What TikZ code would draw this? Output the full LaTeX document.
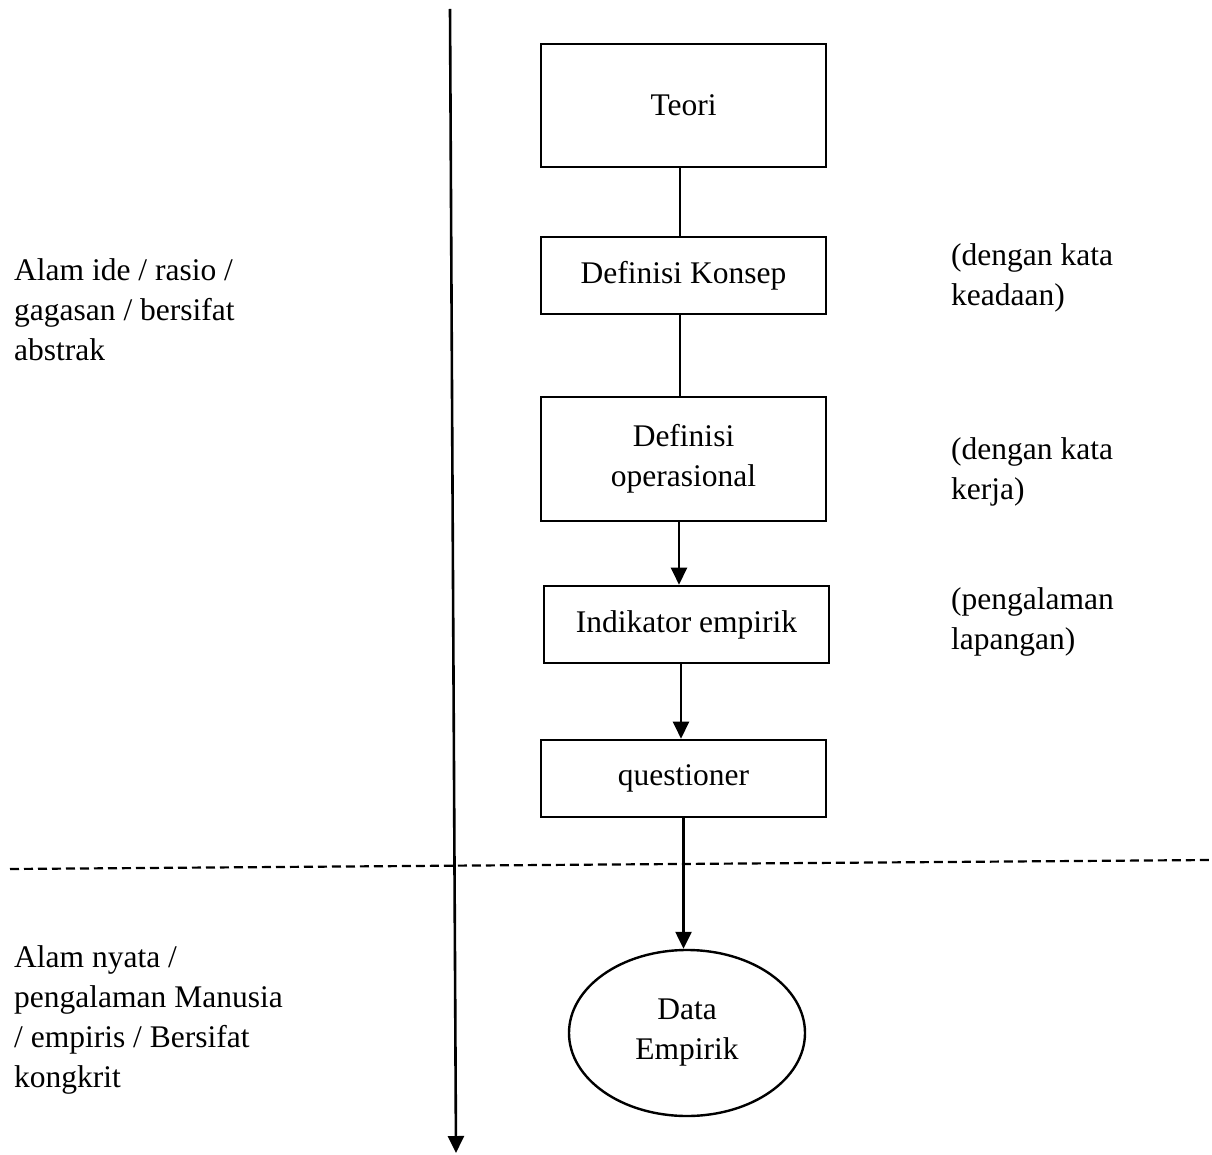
\documentclass[tikz,border=0pt]{standalone}
\usepackage{fontspec}
\setmainfont{Liberation Serif}
\usetikzlibrary{arrows.meta,shapes.geometric}
\begin{document}
\begin{tikzpicture}[x=1pt,y=-1pt,
  font=\fontsize{31.5}{40}\selectfont,
  box/.style={draw,line width=2.6pt,rectangle,minimum width=285pt,minimum height=#1,inner sep=0pt,align=center},
  conn/.style={line width=2.4pt},
  arr/.style={conn,-{Triangle[width=16pt,length=17pt]}},
  lbl/.style={align=left,anchor=base west,inner sep=0pt}]
\useasboundingbox (0,0) rectangle (1212,1155);
% boxes
\node[box=123pt] (teori) at (683.5,105.5) {Teori};
\node[box=77pt] (konsep) at (683.5,275.5) {Definisi Konsep};
\node[box=124pt] (oper) at (683.5,459) {Definisi\\operasional};
\node[box=77pt] (indik) at (686.5,624.5) {Indikator empirik};
\node[box=77pt] (quest) at (683.5,778.5) {questioner};
\node[draw,ellipse,line width=2.4pt,minimum width=236pt,minimum height=166pt,inner sep=0pt,align=center] (data) at (687,1033) {Data\\Empirik};
% connectors
\draw[conn] ([xshift=-3.5pt]teori.south) -- ([xshift=-3.5pt]konsep.north);
\draw[conn] ([xshift=-3.5pt]konsep.south) -- ([xshift=-3.5pt]oper.north);
\draw[arr] ([xshift=-4.5pt]oper.south) -- ([xshift=-7.5pt]indik.north);
\draw[arr] ([xshift=-5.5pt]indik.south) -- ([xshift=-2.5pt]quest.north);
\draw[arr] (quest.south) -- (quest.south |- data.north);
% axis and divider
\coordinate (axtop) at (450,9);
\coordinate (axbot) at (456,1153);
\draw[line width=2.6pt,-{Triangle[width=16pt,length=17pt]}] (axtop) -- (axbot);
\coordinate (dl) at (10,869);
\coordinate (dr) at (1210,860);
\draw[line width=2.2pt,dash pattern=on 9pt off 5pt] (dl) -- (dr);
% labels (anchor is the baseline of the last line)
\node[lbl] (l1) at (14,360) {Alam ide / rasio /\\gagasan / bersifat\\abstrak};
\node[lbl] (l2) at (14,1087) {Alam nyata /\\pengalaman Manusia\\/ empiris / Bersifat\\kongkrit};
\node[lbl] (r1) at (951,306) {(dengan kata\\keadaan)};
\node[lbl] (r2) at (951,499) {(dengan kata\\kerja)};
\node[lbl] (r3) at (951,649) {(pengalaman\\lapangan)};
\end{tikzpicture}
\end{document}
